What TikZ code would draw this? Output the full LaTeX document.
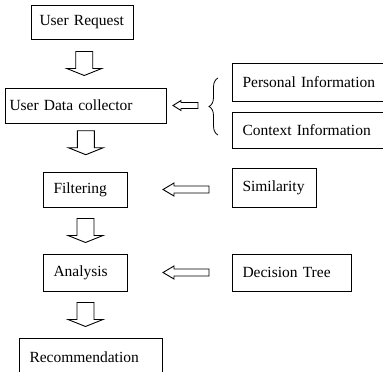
\documentclass[tikz,border=0pt]{standalone}
\usepackage{fontspec}
\setmainfont{Liberation Serif}
\usetikzlibrary{calc, positioning, decorations.pathreplacing}

\begin{document}
\begin{tikzpicture}[
  x=1pt, y=-1pt,
  font=\fontsize{15.5}{18}\selectfont,
  box/.style={draw, line width=1pt, anchor=west, align=left,
              inner xsep=10pt, inner ysep=0pt, text width=#1,
              minimum height=35pt},
  blk/.style={draw, line width=0.9pt, fill=white, line join=miter},
  brc/.style={draw, line width=0.8pt, decorate,
              decoration={brace, amplitude=9pt}},
  downarr/.pic={\path[blk] (-8.5,-12) -- (8.5,-12) -- (8.5,5) -- (17.5,5)
      -- (0,12) -- (-17.5,5) -- (-8.5,5) -- cycle;},
  leftarr/.pic={\path[blk] (0,0) -- (8,-5) -- (8,-3) -- (25,-3)
      -- (25,3) -- (8,3) -- (8,5) -- cycle;},
  longarr/.pic={\path[blk] (0,0) -- (11,-6.5) -- (11,-3.5) -- (46,-3.5)
      -- (46,3.5) -- (11,3.5) -- (11,6.5) -- cycle;}
]
\path[fill=white, use as bounding box] (0,0) rectangle (383,372);
\clip (0,0) rectangle (383,372);

\node[box=86, inner xsep=8pt, minimum height=34pt] (req)  at (31,22)    {User Request};
\node[box=153, inner xsep=4pt]                     (udc)  at (5,105.5)  {User Data collector};
\node[box=150, minimum height=38pt]                (pers) at (232,82)   {Personal Information};
\node[box=150, minimum height=36pt]                (ctx)  at (232,130)  {Context Information};
\node[box=64]                                      (filt) at (43,189.5) {Filtering};
\node[box=64, minimum height=39pt]                 (sim)  at (232,187.5){Similarity};
\node[box=64, minimum height=37pt]                 (ana)  at (43,272.5) {Analysis};
\node[box=99, minimum height=37pt]                 (dt)   at (232,272.5){Decision Tree};
\node[box=123, minimum height=38pt]                (rec)  at (19,357)   {Recommendation};

\pic at ($(req.south)!0.5!(udc.north)$) {downarr};
\pic at ($(udc.south)!0.4!(filt.north)$) {downarr};
\pic at ($(filt.south)!0.5!(ana.north)$) {downarr};
\pic at ($(ana.south)!0.5!(ana.south |- rec.north)$) {downarr};

\pic at ([xshift=6pt]udc.east) {leftarr};
\pic at ([xshift=35pt]filt.east) {longarr};
\pic at ([xshift=35pt]ana.east) {longarr};

\draw[brc] ([xshift=-14pt,yshift=-5pt]ctx.west) -- ([xshift=-14pt,yshift=4pt]pers.west);
\end{tikzpicture}
\end{document}
